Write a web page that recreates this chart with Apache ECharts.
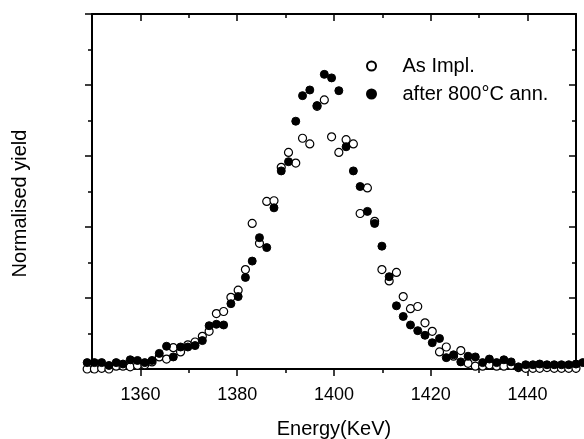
<!DOCTYPE html>
<html>
<head>
<meta charset="utf-8">
<script src="https://cdn.jsdelivr.net/npm/echarts@6/dist/echarts.min.js"></script>
<style>
html,body{margin:0;padding:0;background:#fff;}
#chart{width:584px;height:439px;}
</style>
</head>
<body>
<div id="chart"></div>
<script>
// Energies (keV) of the measurement channels
var energies = [1349.0,1350.5,1352.0,1353.5,1355.0,1356.4,1357.9,1359.4,1360.9,1362.4,
  1363.9,1365.4,1366.8,1368.3,1369.8,1371.3,1372.8,1374.2,1375.7,1377.2,
  1378.7,1380.2,1381.7,1383.1,1384.6,1386.1,1387.6,1389.1,1390.6,1392.1,
  1393.5,1395.0,1396.5,1398.0,1399.5,1401.0,1402.5,1404.0,1405.4,1406.9,
  1408.4,1409.9,1411.4,1412.9,1414.3,1415.8,1417.3,1418.8,1420.3,1421.8,
  1423.2,1424.7,1426.2,1427.7,1429.2,1430.7,1432.1,1433.6,1435.1,1436.6,
  1438.1,1439.6,1441.1,1442.5,1444.0,1445.5,1447.0,1448.5,1450.0,1451.4];

// As implanted (open circles)
var asImpl = [0.00,0.00,0.01,0.00,0.04,0.04,0.03,0.05,0.06,0.10,
  0.17,0.14,0.30,0.24,0.34,0.38,0.46,0.53,0.78,0.81,
  1.01,1.11,1.40,2.05,1.77,2.36,2.37,2.84,3.05,2.90,
  3.25,3.17,3.70,3.79,3.27,3.05,3.23,3.17,2.19,2.55,
  2.08,1.40,1.24,1.36,1.02,0.85,0.88,0.65,0.53,0.24,
  0.31,0.18,0.26,0.08,0.04,0.04,0.06,0.04,0.04,0.05,
  0.02,0.01,0.01,0.01,0.02,0.01,0.01,0.01,0.01,null];

// After 800°C annealing (filled circles)
var annealed = [0.09,0.09,0.09,0.05,0.09,0.07,0.13,0.12,0.09,0.12,
  0.22,0.32,0.17,0.31,0.31,0.33,0.40,0.61,0.63,0.62,
  0.92,1.02,1.29,1.52,1.85,1.71,2.27,2.79,2.92,3.49,
  3.85,3.93,3.71,4.15,4.10,3.92,3.13,2.79,2.57,2.22,
  2.05,1.73,1.30,0.89,0.74,0.62,0.54,0.475,0.37,0.43,
  0.16,0.20,0.10,0.18,0.17,0.09,0.14,0.09,0.13,0.10,
  0.03,0.06,0.06,0.07,0.06,0.06,0.06,0.06,0.07,0.09];

var xMajorTicks = [1360,1380,1400,1420,1440];
var seriesNames = ['As Impl.', 'after 800\u00B0C ann.'];

function pairs(xs, ys){
  var out = [];
  for (var i = 0; i < xs.length; i++) { if (ys[i] != null) out.push([xs[i], ys[i]]); }
  return out;
}

var FONT = 'Liberation Sans, Arial, Helvetica, sans-serif';
var lineStyle = {color:'#000', width:2};
var tickStyle = {color:'#000', width:1.5};

var chart = echarts.init(document.getElementById('chart'), null, {renderer:'canvas'});
chart.setOption({
  backgroundColor:'#fff',
  animation:false,
  grid:{left:92, right:8, top:14, bottom:70, containLabel:false, outerBoundsMode:'none'},
  xAxis:[
    {type:'value', position:'bottom', min:1350, max:1450, interval:10,
     axisLine:{show:true, lineStyle:lineStyle, onZero:false},
     axisTick:{show:true, inside:false, length:4, lineStyle:tickStyle},
     axisLabel:{show:false}, splitLine:{show:false}},
    {type:'value', position:'bottom', min:1350, max:1450,
     axisLine:{show:false, onZero:false},
     axisTick:{show:true, inside:false, length:7, lineStyle:tickStyle, customValues:xMajorTicks},
     axisLabel:{show:true, customValues:xMajorTicks, margin:17, fontSize:18, color:'#000', fontFamily:FONT,
       formatter:function(v){ return String(Math.round(v)); }},
     splitLine:{show:false},
     name:'Energy(KeV)', nameLocation:'middle', nameGap:50,
     nameTextStyle:{fontSize:20, color:'#000', fontFamily:FONT}},
    {type:'value', position:'top', min:1350, max:1450, interval:10,
     axisLine:{show:true, lineStyle:lineStyle, onZero:false},
     axisTick:{show:true, inside:true, length:4, lineStyle:tickStyle},
     axisLabel:{show:false}, splitLine:{show:false}},
    {type:'value', position:'top', min:1350, max:1450,
     axisLine:{show:false, onZero:false},
     axisTick:{show:true, inside:true, length:7, lineStyle:tickStyle, customValues:xMajorTicks},
     axisLabel:{show:false}, splitLine:{show:false}}
  ],
  yAxis:[
    {type:'value', position:'left', min:0, max:5, interval:1,
     axisLine:{show:true, lineStyle:lineStyle, onZero:false},
     axisTick:{show:true, inside:false, length:7, lineStyle:tickStyle},
     minorTick:{show:true, splitNumber:2, length:4, lineStyle:tickStyle},
     axisLabel:{show:false}, splitLine:{show:false}, minorSplitLine:{show:false}},
    {type:'value', position:'right', min:0, max:5, interval:1,
     axisLine:{show:true, lineStyle:lineStyle, onZero:false},
     axisTick:{show:true, inside:true, length:7, lineStyle:tickStyle},
     minorTick:{show:true, splitNumber:2, length:4, lineStyle:tickStyle},
     axisLabel:{show:false}, splitLine:{show:false}, minorSplitLine:{show:false}}
  ],
  legend:{
    data:seriesNames, orient:'vertical', left:366, top:56, padding:0,
    itemWidth:52, itemHeight:9, itemGap:8, icon:'circle',
    textStyle:{fontSize:20, color:'#000', fontFamily:FONT}
  },
  graphic:[{
    type:'text', x:20, y:203.5, rotation:Math.PI/2,
    style:{text:'Normalised yield', font:'20px ' + FONT, fill:'#000', align:'center', verticalAlign:'middle'}
  }],
  series:[
    {name:seriesNames[0], type:'scatter', xAxisIndex:0, yAxisIndex:0, clip:false,
     symbol:'circle', symbolSize:8,
     itemStyle:{color:'#fff', borderColor:'#000', borderWidth:1.2, opacity:1},
     data:pairs(energies, asImpl)},
    {name:seriesNames[1], type:'scatter', xAxisIndex:0, yAxisIndex:0, clip:false,
     symbol:'circle', symbolSize:8,
     itemStyle:{color:'#000', borderColor:'#000', borderWidth:1, opacity:1},
     data:pairs(energies, annealed)}
  ]
});
</script>
</body>
</html>
